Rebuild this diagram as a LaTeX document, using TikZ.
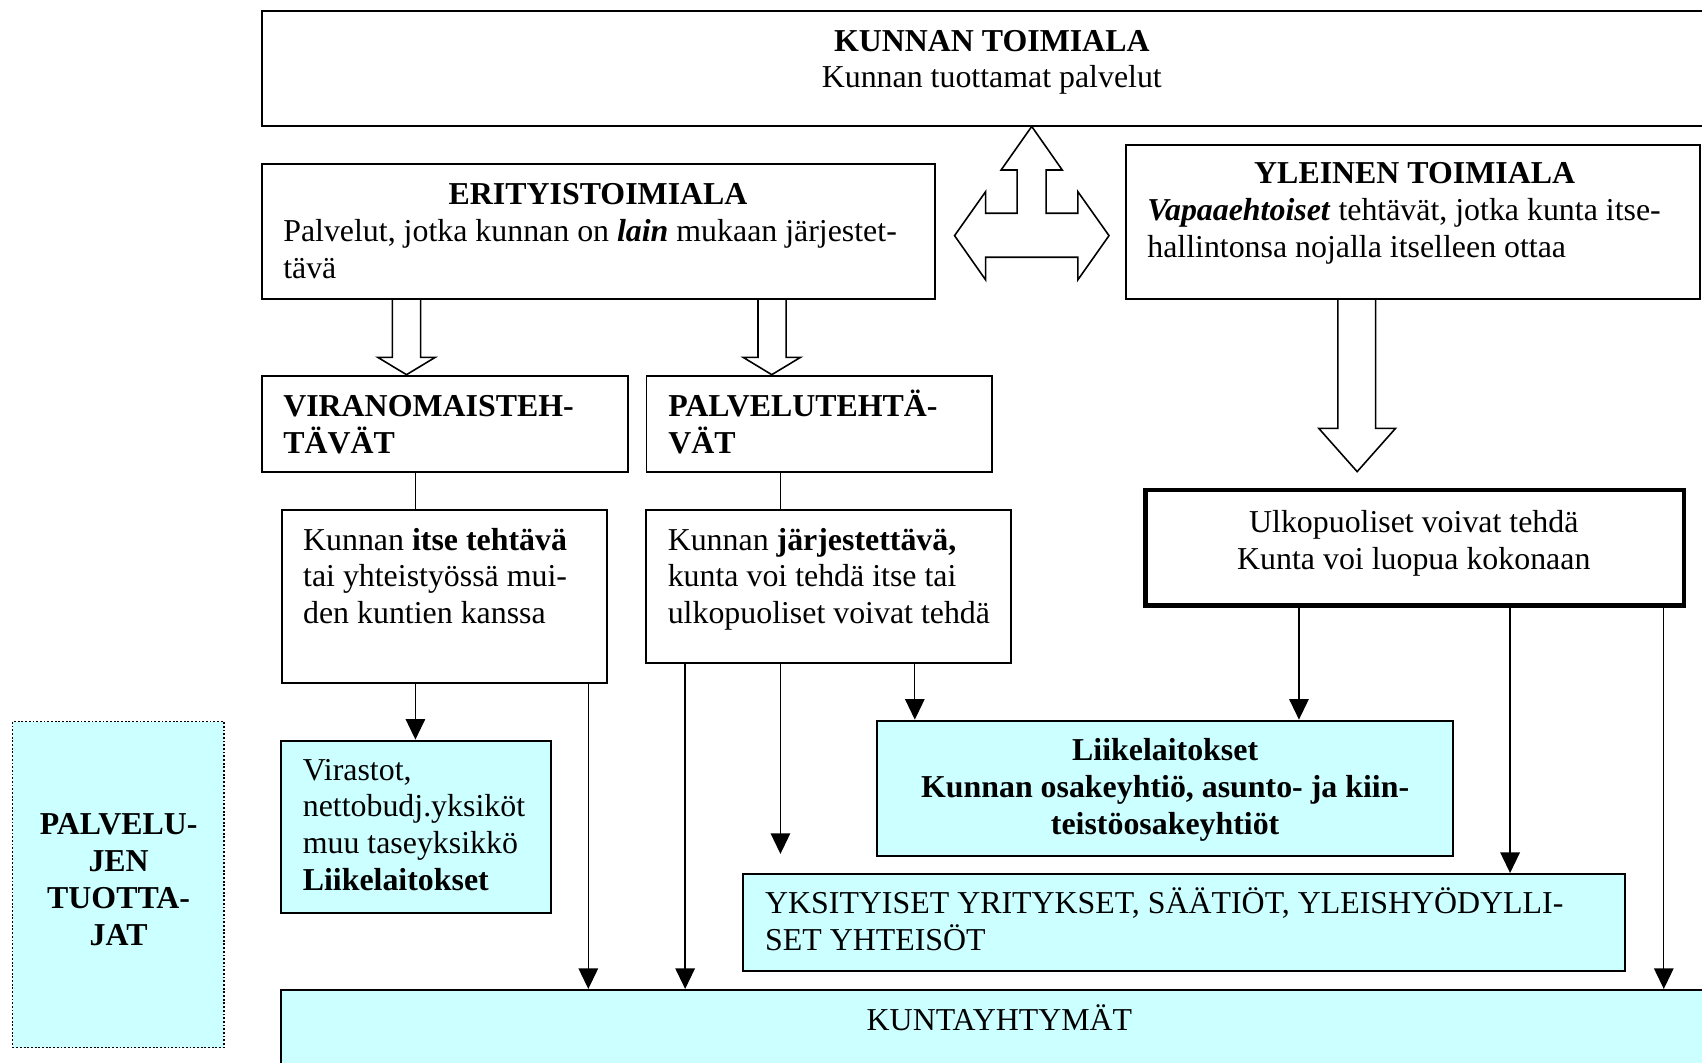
\documentclass[tikz,border=0pt]{standalone}
\usepackage{fontspec}
\setmainfont{Liberation Serif}
\usetikzlibrary{arrows.meta,fit}
\definecolor{cyanfill}{HTML}{CCFFFF}
\begin{document}
\begin{tikzpicture}[x=0.412pt,y=-0.412pt,
  box/.style={draw, line width=0.75pt, inner sep=0pt},
  cbox/.style={box, fill=cyanfill},
  thickbox/.style={draw, line width=1.7pt, inner sep=0pt},
  dotbox/.style={draw, fill=cyanfill, line width=0.6pt, dash pattern=on 0.7pt off 0.7pt, inner sep=0pt},
  txt/.style={inner sep=0pt, font=\fontsize{12.1}{14}\selectfont},
  link/.style={line width=0.5pt},
  arr/.style={link, -{Triangle[length=7.8pt,width=7.4pt]}},
  hollow/.style={draw, fill=white, line width=0.6pt, line join=miter},
]
\useasboundingbox (0,0) rectangle (1568,979);
\clip (0,0) rectangle (1568,979);
\fill[white] (0,0) rectangle (1568,979);

% boxes
\node[box, fit={(241,10) (1590,116)}] (top) {};
\node[box, fit={(241,151) (861.4,275.5)}] (erit) {};
\node[box, fit={(1037.4,133.6) (1566.5,275.5)}] (yle) {};
\node[box, fit={(241,346.1) (578.2,434.5)}] (vir) {};
\node[box, fit={(595.6,346.1) (914.3,434.5)}] (pal) {};
\node[box, fit={(259.4,469.8) (559.3,629)}] (itse) {};
\node[box, fit={(595.5,469.8) (931.5,611)}] (jarj) {};
\node[thickbox, fit={(1055.1,451.4) (1551.6,558)}] (ulko) {};
\node[dotbox, fit={(11.6,664.8) (206.2,965.1)}] (tuot) {};
\node[cbox, fit={(259.1,682.3) (507.7,841.4)}] (viras) {};
\node[cbox, fit={(807.9,663.9) (1338.5,788.6)}] (liike) {};
\node[cbox, fit={(684.6,805.2) (1496.7,894.5)}] (yksit) {};
\node[cbox, fit={(259.1,912) (1590,1000)}] (kuntay) {};

% three-way hollow arrow
\draw[hollow] (950.5,116.5) -- (978.6,156.6) -- (963.8,156.6) -- (963.8,196.5) -- (993,196.5)
  -- (993,176.6) -- (1021.7,217.1) -- (993,257.8) -- (993,237) -- (908,237) -- (908,257.8)
  -- (879.4,217.1) -- (908,176.6) -- (908,196.5) -- (937.1,196.5) -- (937.1,156.6)
  -- (922.3,156.6) -- cycle;

% hollow down arrows
\draw[hollow] (361.5,0 |- erit.south) -- (361.5,329.2) -- (348,329.2) -- (374.5,0 |- vir.north)
  -- (401,329.2) -- (387.5,329.2) -- (387.5,0 |- erit.south);
\draw[hollow] (698.3,0 |- erit.south) -- (698.3,329.2) -- (684.6,329.2) -- (711,0 |- pal.north)
  -- (737.5,329.2) -- (724.3,329.2) -- (724.3,0 |- erit.south);
\draw[hollow] (1232.6,0 |- yle.south) -- (1232.6,394.6) -- (1214.9,394.6) -- (1250.3,434.5)
  -- (1285.7,394.6) -- (1267.3,394.6) -- (1267.3,0 |- yle.south);

% connectors
\coordinate (freeend) at (719,786.7);
\draw[link] (382.5,0 |- vir.south) -- (382.5,0 |- itse.north);
\draw[link] (719.3,0 |- pal.south) -- (719.3,0 |- jarj.north);
\draw[arr] (382.7,0 |- itse.south) -- (382.7,0 |- viras.north);
\draw[arr] (542,0 |- itse.south) -- (542,0 |- kuntay.north);
\draw[arr] (631.2,0 |- jarj.south) -- (631.2,0 |- kuntay.north);
\draw[arr] (freeend |- jarj.south) -- (freeend);
\draw[arr] (842.8,0 |- jarj.south) -- (842.8,0 |- liike.north);
\draw[arr] (1196.7,0 |- ulko.south) -- (1196.7,0 |- liike.north);
\draw[arr] (1391.2,0 |- ulko.south) -- (1391.2,0 |- yksit.north);
\draw[arr] (1532.8,0 |- ulko.south) -- (1532.8,0 |- kuntay.north);

% texts (multi-line nodes: base = baseline of last line)
\node[txt, anchor=base] (t1) at (913.7,47.5) {\textbf{KUNNAN TOIMIALA}};
\node[txt, anchor=base] (t2) at (913.7,81) {Kunnan tuottamat palvelut};
\node[txt, anchor=base] (e1) at (551,188.8) {\textbf{ERITYISTOIMIALA}};
\node[txt, anchor=base west, align=left] (e2) at (260.5,256.6) {Palvelut, jotka kunnan on \textbf{\textit{lain}} mukaan järjestet-\\tävä};
\node[txt, anchor=base] (y1) at (1303.3,169.5) {\textbf{YLEINEN TOIMIALA}};
\node[txt, anchor=base west, align=left] (y2) at (1056.5,237.5) {\textbf{\textit{Vapaaehtoiset}} tehtävät, jotka kunta itse-\\hallintonsa nojalla itselleen ottaa};
\node[txt, anchor=base, align=center] (u1) at (1302.5,524.5) {Ulkopuoliset voivat tehdä\\Kunta voi luopua kokonaan};
\node[txt, anchor=base west, align=left] (v1) at (260.5,418) {\textbf{VIRANOMAISTEH-}\\\textbf{TÄVÄT}};
\node[txt, anchor=base west, align=left] (p1) at (615.2,418) {\textbf{PALVELUTEHTÄ-}\\\textbf{VÄT}};
\node[txt, anchor=base west, align=left] (i1) at (278.8,574.7) {Kunnan \textbf{itse tehtävä}\\tai yhteistyössä mui-\\den kuntien kanssa};
\node[txt, anchor=base west, align=left] (j1) at (614.7,574.7) {Kunnan \textbf{järjestettävä,}\\kunta voi tehdä itse tai\\ulkopuoliset voivat tehdä};
\node[txt, anchor=base, align=center] (pt) at (109.3,871) {\textbf{PALVELU-}\\\textbf{JEN}\\\textbf{TUOTTA-}\\\textbf{JAT}};
\node[txt, anchor=base west, align=left] (vi) at (278.5,820.6) {Virastot,\\nettobudj.yksiköt\\muu taseyksikkö\\\textbf{Liikelaitokset}};
\node[txt, anchor=base, align=center] (li) at (1073.4,768.5) {\textbf{Liikelaitokset}\\\textbf{Kunnan osakeyhtiö, asunto- ja kiin-}\\\textbf{teistöosakeyhtiöt}};
\node[txt, anchor=base west, align=left] (yk) at (704.4,875.4) {YKSITYISET YRITYKSET, SÄÄTIÖT, YLEISHYÖDYLLI-\\SET YHTEISÖT};
\node[txt, anchor=base west] (ku) at (798,949.5) {KUNTAYHTYMÄT};
\end{tikzpicture}
\end{document}
